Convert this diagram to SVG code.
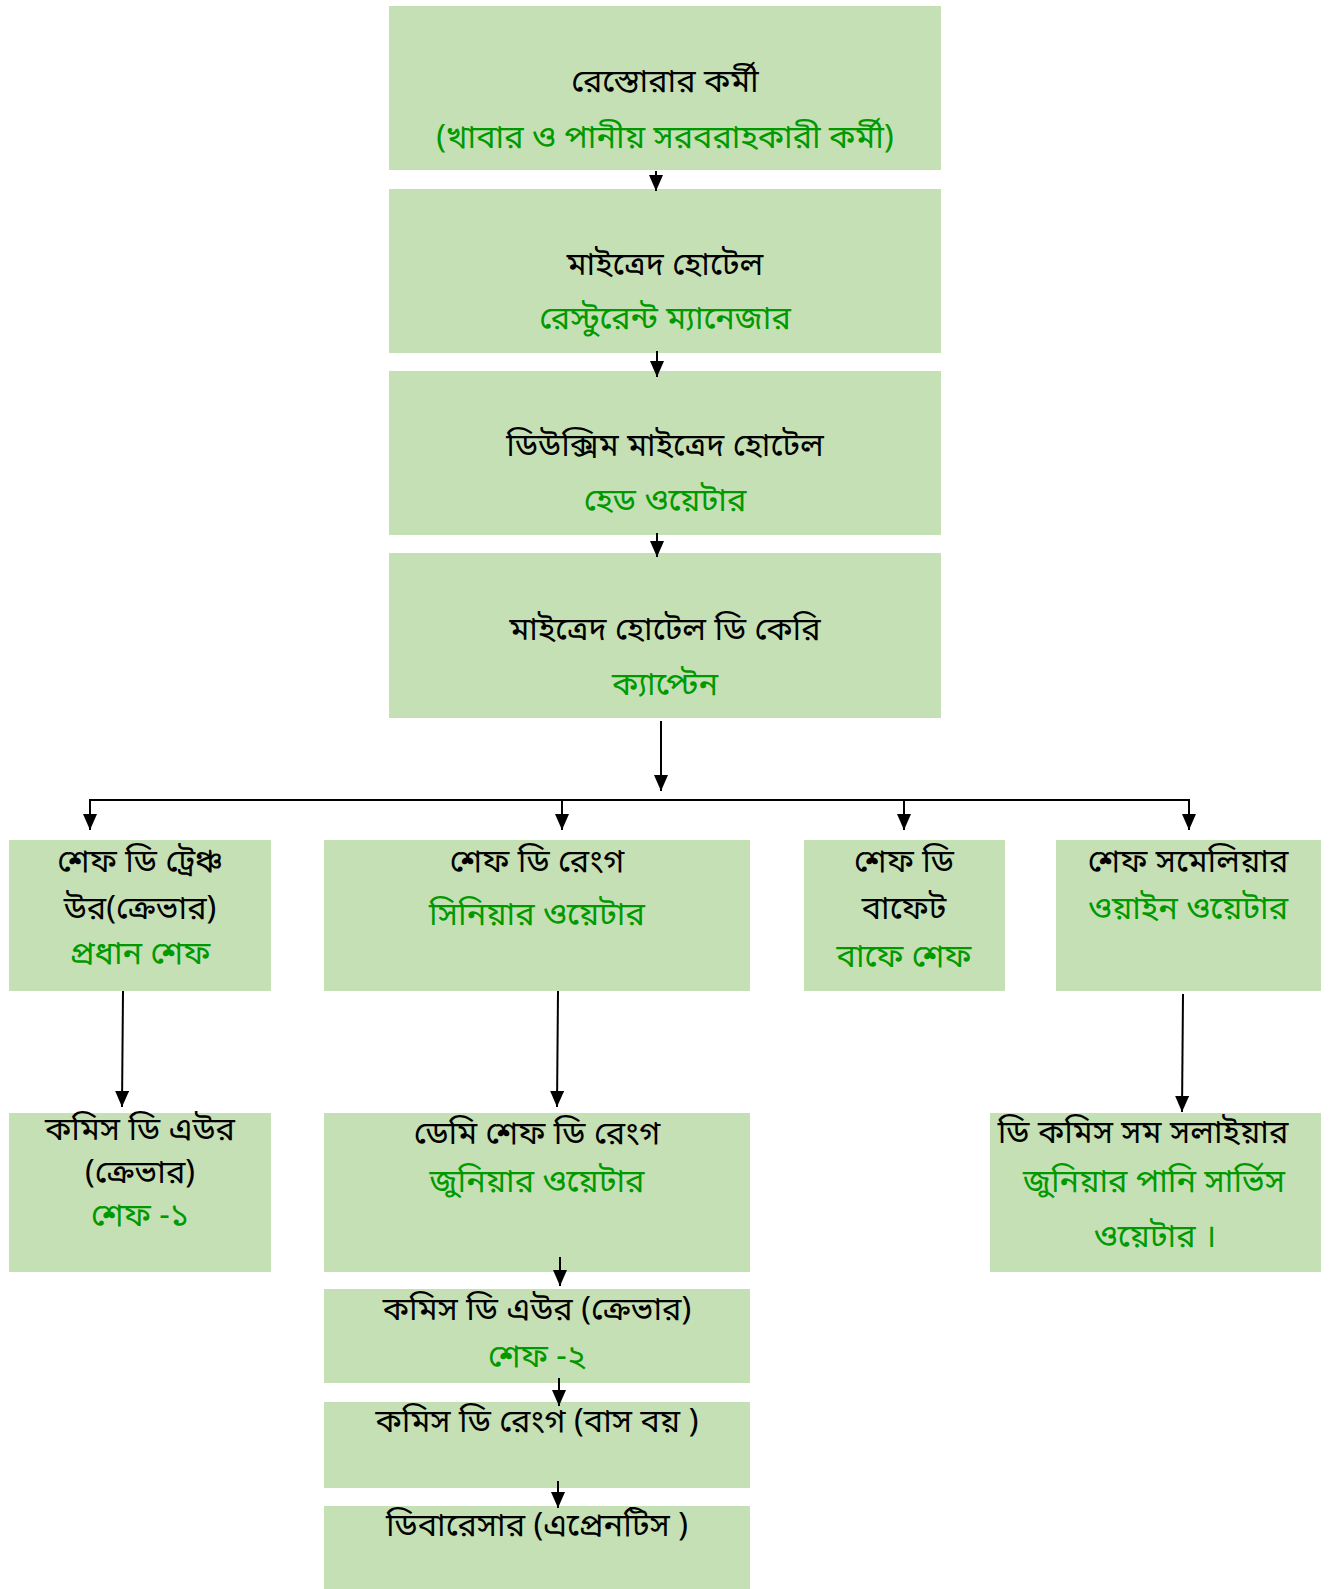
<svg xmlns="http://www.w3.org/2000/svg" width="1335" height="1589" viewBox="0 0 1335 1589">
<style>
.box{fill:#C5E0B4;}
text{font-family:"Noto Sans","Noto Sans Bengali","Liberation Sans",sans-serif;font-size:32.5px;text-anchor:middle;}
.k{fill:#000000;}
.g{fill:#009900;}
.c{stroke:#000;stroke-width:2;fill:none;}
</style>
<defs>
<marker id="ah" viewBox="0 0 16 14" refX="16" refY="7" markerWidth="16" markerHeight="14" markerUnits="userSpaceOnUse" orient="auto">
<path d="M0,0 L16,7 L0,14 Z" fill="#000"/>
</marker>
</defs>
<rect width="1335" height="1589" fill="#fff"/>
<g id="n1"><rect class="box" x="389" y="6" width="552" height="164"/>
<text class="k" x="665" y="92">রেস্তোরার কর্মী</text>
<text class="g" x="665" y="148">(খাবার ও পানীয় সরবরাহকারী কর্মী)</text></g>
<g id="n2"><rect class="box" x="389" y="189" width="552" height="164"/>
<text class="k" x="665" y="275">মাইত্রেদ হোটেল</text>
<text class="g" x="665" y="329">রেস্টুরেন্ট ম্যানেজার</text></g>
<g id="n3"><rect class="box" x="389" y="371" width="552" height="164"/>
<text class="k" x="665" y="456">ডিউক্সিম মাইত্রেদ হোটেল</text>
<text class="g" x="665" y="511">হেড ওয়েটার</text></g>
<g id="n4"><rect class="box" x="389" y="553" width="552" height="165"/>
<text class="k" x="665" y="640">মাইত্রেদ হোটেল ডি কেরি</text>
<text class="g" x="665" y="695">ক্যাপ্টেন</text></g>
<g id="n5"><rect class="box" x="9" y="840" width="262" height="151"/>
<text class="k" x="140" y="872">শেফ ডি ট্রেঞ্চ</text>
<text class="k" x="140" y="919">উর(ক্রেভার)</text>
<text class="g" x="140" y="964">প্রধান শেফ</text></g>
<g id="n6"><rect class="box" x="324" y="840" width="426" height="151"/>
<text class="k" x="537" y="872">শেফ ডি রেংগ</text>
<text class="g" x="537" y="925">সিনিয়ার ওয়েটার</text></g>
<g id="n7"><rect class="box" x="804" y="840" width="201" height="151"/>
<text class="k" x="904" y="872">শেফ ডি</text>
<text class="k" x="904" y="919">বাফেট</text>
<text class="g" x="904" y="967">বাফে শেফ</text></g>
<g id="n8"><rect class="box" x="1056" y="840" width="265" height="151"/>
<text class="k" x="1188" y="872">শেফ সমেলিয়ার</text>
<text class="g" x="1188" y="919">ওয়াইন ওয়েটার</text></g>
<g id="n9"><rect class="box" x="9" y="1113" width="262" height="159"/>
<text class="k" x="140" y="1140">কমিস ডি এউর</text>
<text class="k" x="140" y="1183">(ক্রেভার)</text>
<text class="g" x="140" y="1226">শেফ -১</text></g>
<g id="n10"><rect class="box" x="324" y="1113" width="426" height="159"/>
<text class="k" x="537" y="1144">ডেমি শেফ ডি রেংগ</text>
<text class="g" x="537" y="1192">জুনিয়ার ওয়েটার</text></g>
<g id="n11"><rect class="box" x="990" y="1113" width="331" height="159"/>
<text class="k" x="1143" y="1143">ডি কমিস সম সলাইয়ার</text>
<text class="g" x="1154" y="1192">জুনিয়ার পানি সার্ভিস</text>
<text class="g" x="1155" y="1247">ওয়েটার ।</text></g>
<g id="n12"><rect class="box" x="324" y="1289" width="426" height="94"/>
<text class="k" x="537" y="1320">কমিস ডি এউর (ক্রেভার)</text>
<text class="g" x="537" y="1367">শেফ -২</text></g>
<g id="n13"><rect class="box" x="324" y="1402" width="426" height="86"/>
<text class="k" x="537" y="1432">কমিস ডি রেংগ (বাস বয় )</text></g>
<g id="n14"><rect class="box" x="324" y="1506" width="426" height="83"/>
<text class="k" x="537" y="1536">ডিবারেসার (এপ্রেনটিস )</text></g>
<g id="connectors">
<line class="c" x1="656" y1="171" x2="656" y2="191" marker-end="url(#ah)"/>
<line class="c" x1="657" y1="351" x2="657" y2="377" marker-end="url(#ah)"/>
<line class="c" x1="657" y1="533" x2="657" y2="557" marker-end="url(#ah)"/>
<line class="c" x1="661" y1="721" x2="661" y2="791" marker-end="url(#ah)"/>
<polyline class="c" points="90,829 90,800 1189,800 1189,829"/>
<line class="c" x1="90" y1="800" x2="90" y2="830" marker-end="url(#ah)"/>
<line class="c" x1="562" y1="800" x2="562" y2="830" marker-end="url(#ah)"/>
<line class="c" x1="904" y1="800" x2="904" y2="830" marker-end="url(#ah)"/>
<line class="c" x1="1189" y1="800" x2="1189" y2="830" marker-end="url(#ah)"/>
<line class="c" x1="123" y1="991" x2="122" y2="1107" marker-end="url(#ah)"/>
<line class="c" x1="558" y1="991" x2="557" y2="1107" marker-end="url(#ah)"/>
<line class="c" x1="1183" y1="994" x2="1182" y2="1112" marker-end="url(#ah)"/>
<line class="c" x1="560" y1="1257" x2="560" y2="1286" marker-end="url(#ah)"/>
<line class="c" x1="559" y1="1378" x2="559" y2="1406" marker-end="url(#ah)"/>
<line class="c" x1="558" y1="1481" x2="558" y2="1508" marker-end="url(#ah)"/>
</g>
</svg>
